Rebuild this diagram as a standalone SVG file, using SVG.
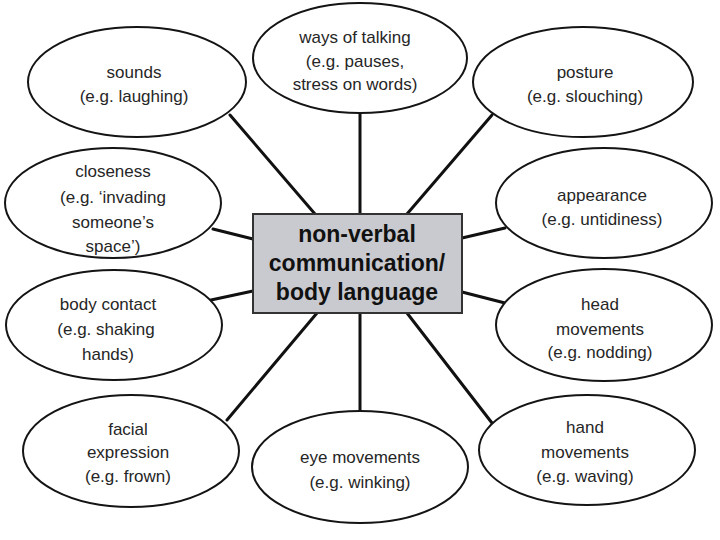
<svg xmlns="http://www.w3.org/2000/svg" width="720" height="540" viewBox="0 0 720 540">
<style>
.bg{fill:#ffffff}
.node ellipse{fill:#ffffff;stroke:#141414;stroke-width:2}
.node text{font-family:"Liberation Sans",Arial,sans-serif;font-size:17px;fill:#262626;text-anchor:middle}
.center rect{fill:#c9cacf;stroke:#333333;stroke-width:2}
.center text{font-family:"Liberation Sans",Arial,sans-serif;font-size:23px;font-weight:bold;fill:#111111;text-anchor:middle}
.conn line{stroke:#111111;stroke-width:3;stroke-linecap:round}
</style>
<rect class="bg" x="0" y="0" width="720" height="540"/>
<g id="connectors" class="conn">
<line x1="230" y1="115" x2="315" y2="214"/>
<line x1="360" y1="113" x2="360" y2="214"/>
<line x1="492" y1="115" x2="407" y2="214"/>
<line x1="213" y1="229" x2="253" y2="239"/>
<line x1="505" y1="228" x2="462" y2="238"/>
<line x1="211" y1="300" x2="253" y2="291"/>
<line x1="505" y1="303" x2="462" y2="292"/>
<line x1="227" y1="420" x2="317" y2="313"/>
<line x1="360" y1="313" x2="360" y2="412"/>
<line x1="492" y1="423" x2="407" y2="313"/>
</g>
<g id="center" class="center">
<rect x="253" y="214" width="209" height="99"/>
<text x="357" y="242">non-verbal</text>
<text x="357" y="271">communication/</text>
<text x="357" y="300">body language</text>
</g>
<g id="sounds" class="node">
<ellipse cx="137" cy="82" rx="109" ry="55"/>
<text x="134" y="78">sounds</text>
<text x="134" y="102">(e.g. laughing)</text>
</g>
<g id="ways-of-talking" class="node">
<ellipse cx="360" cy="58" rx="107" ry="55"/>
<text x="355" y="43">ways of talking</text>
<text x="355" y="67">(e.g. pauses,</text>
<text x="355" y="90">stress on words)</text>
</g>
<g id="posture" class="node">
<ellipse cx="583" cy="82" rx="110" ry="55"/>
<text x="585" y="78">posture</text>
<text x="585" y="102">(e.g. slouching)</text>
</g>
<g id="closeness" class="node">
<ellipse cx="113" cy="203" rx="108" ry="55"/>
<text x="113" y="177">closeness</text>
<text x="113" y="203">(e.g. ‘invading</text>
<text x="113" y="228">someone’s</text>
<text x="113" y="252">space’)</text>
</g>
<g id="appearance" class="node">
<ellipse cx="604" cy="203" rx="108" ry="55"/>
<text x="602" y="201">appearance</text>
<text x="602" y="225">(e.g. untidiness)</text>
</g>
<g id="body-contact" class="node">
<ellipse cx="114" cy="325" rx="108" ry="55"/>
<text x="108" y="310">body contact</text>
<text x="106" y="335">(e.g. shaking</text>
<text x="108" y="360">hands)</text>
</g>
<g id="head-movements" class="node">
<ellipse cx="604" cy="325" rx="108" ry="56"/>
<text x="600" y="310">head</text>
<text x="600" y="335">movements</text>
<text x="600" y="358">(e.g. nodding)</text>
</g>
<g id="facial-expression" class="node">
<ellipse cx="131" cy="451" rx="108" ry="56"/>
<text x="128" y="435">facial</text>
<text x="128" y="458">expression</text>
<text x="128" y="482">(e.g. frown)</text>
</g>
<g id="eye-movements" class="node">
<ellipse cx="360" cy="467" rx="108" ry="56"/>
<text x="360" y="463">eye movements</text>
<text x="360" y="488">(e.g. winking)</text>
</g>
<g id="hand-movements" class="node">
<ellipse cx="587" cy="450" rx="108" ry="55"/>
<text x="585" y="433">hand</text>
<text x="585" y="458">movements</text>
<text x="585" y="482">(e.g. waving)</text>
</g>
</svg>
